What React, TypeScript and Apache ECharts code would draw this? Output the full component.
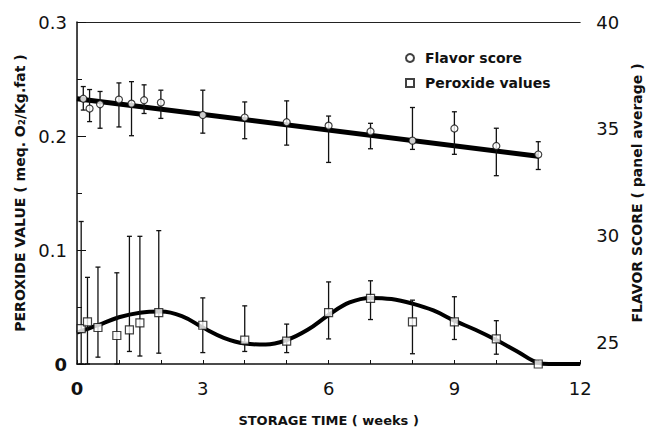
import React, { useEffect, useRef } from "react";
import * as echarts from "echarts";

// Flavor score (right axis, panel average)
const flavorWeeks = [0.15, 0.3, 0.55, 1, 1.3, 1.6, 2, 3, 4, 5, 6, 7, 8, 9, 10, 11];
const flavorScore = [36.41, 35.95, 36.15, 36.37, 36.18, 36.34, 36.23, 35.65, 35.53, 35.31, 35.15, 34.88, 34.45, 35.02, 34.2, 33.8];
const flavorHigh = [36.98, 36.84, 36.75, 37.15, 37.21, 37.06, 36.81, 36.81, 36.26, 36.31, 35.6, 35.26, 36.0, 35.8, 35.03, 34.4];
const flavorLow = [35.88, 35.34, 35.03, 35.09, 34.68, 35.72, 35.49, 34.8, 34.54, 34.24, 33.43, 34.07, 34.04, 33.81, 32.81, 33.1];
const flavorFit = [
  [0, 36.41],
  [11, 33.72],
];

// Peroxide values (left axis, meq O2/Kg fat)
const peroxWeeks = [0.1, 0.25, 0.5, 0.95, 1.25, 1.5, 1.95, 3, 4, 5, 6, 7, 8, 9, 10, 11];
const peroxValue = [0.031, 0.037, 0.032, 0.025, 0.03, 0.036, 0.045, 0.034, 0.021, 0.02, 0.045, 0.0575, 0.037, 0.037, 0.022, 0];
const peroxHigh = [0.125, 0.076, 0.085, 0.08, 0.112, 0.112, 0.117, 0.058, 0.051, 0.035, 0.072, 0.073, 0.056, 0.059, 0.038, null];
const peroxLow = [0, 0, 0.006, 0, 0.011, 0.007, 0.0095, 0.01, 0.011, 0.01, 0.022, 0.039, 0.009, 0.0215, 0.0086, null];
const peroxFit = [
  [0, 0.0275], [0.5, 0.034], [1, 0.041], [1.5, 0.045], [2, 0.046], [2.5, 0.042],
  [3, 0.032], [3.5, 0.023], [4, 0.018], [4.5, 0.017], [5, 0.021], [5.5, 0.03],
  [6, 0.043], [6.5, 0.054], [7, 0.058], [7.5, 0.057], [8, 0.053], [8.5, 0.047],
  [9, 0.038], [9.5, 0.03], [10, 0.021], [10.5, 0.011], [11, 0.001], [11.25, 0], [12, 0],
];

const xTickLabels = [0, 3, 6, 9, 12];
const leftTickLabels = [0, 0.1, 0.2, 0.3];
const rightTickLabels = [25, 30, 35, 40];

const FONT = "DejaVu Sans";

function errorBarItem(params: any, api: any) {
  const x = api.value(0);
  const lo = api.value(1);
  const hi = api.value(2);
  if (lo == null || hi == null || isNaN(lo) || isNaN(hi)) return null;
  const pLo = api.coord([x, lo]);
  const pHi = api.coord([x, hi]);
  const w = 2.5;
  const style = { stroke: "#111", lineWidth: 1.3 };
  return {
    type: "group",
    children: [
      { type: "line", shape: { x1: pLo[0], y1: pLo[1], x2: pHi[0], y2: pHi[1] }, style },
      { type: "line", shape: { x1: pHi[0] - w, y1: pHi[1], x2: pHi[0] + w, y2: pHi[1] }, style },
      { type: "line", shape: { x1: pLo[0] - w, y1: pLo[1], x2: pLo[0] + w, y2: pLo[1] }, style },
    ],
  };
}

export default function App() {
  const ref = useRef<HTMLDivElement>(null);
  useEffect(() => {
    if (!ref.current) return;
    const chart = echarts.init(ref.current, null, { renderer: "svg" });
    const numStyle = { fontFamily: FONT, fontSize: 18, color: "#111" };
    chart.setOption({
      animation: false,
      backgroundColor: "#fff",
      grid: { left: 77, right: 59, top: 22, bottom: 62 },
      legend: {
        orient: "vertical",
        left: 400,
        top: 46,
        itemWidth: 8,
        itemHeight: 8,
        itemGap: 11,
        data: [
          { name: "Flavor score", icon: "circle" },
          { name: "Peroxide values", icon: "rect" },
        ],
        textStyle: { fontFamily: FONT, fontWeight: "bold", fontSize: 14, color: "#111", padding: [0, 0, 0, 6] },
      },
      xAxis: [
        {
          type: "value",
          min: 0,
          max: 12,
          interval: 1,
          axisLine: { show: true, lineStyle: { color: "#111", width: 1.5 } },
          axisTick: { show: true, inside: true, length: 4, lineStyle: { color: "#111" } },
          axisLabel: {
            margin: 15,
            ...numStyle,
            formatter: (v: number) =>
              xTickLabels.indexOf(v) >= 0 ? (v === 0 ? "{b|0}" : String(v)) : "",
            rich: { b: { fontFamily: FONT, fontSize: 18, fontWeight: "bold", color: "#111" } },
          },
          splitLine: { show: false },
          name: "STORAGE TIME ( weeks )",
          nameLocation: "middle",
          nameGap: 50,
          nameTextStyle: { fontFamily: FONT, fontWeight: "bold", fontSize: 13, color: "#111" },
        },
        {
          type: "value",
          position: "top",
          min: 0,
          max: 12,
          axisLine: { show: true, lineStyle: { color: "#222", width: 1 } },
          axisTick: { show: false },
          axisLabel: { show: false },
          splitLine: { show: false },
        },
      ],
      yAxis: [
        {
          type: "value",
          position: "left",
          min: 0,
          max: 0.3,
          interval: 0.1,
          axisLine: { show: true, lineStyle: { color: "#111", width: 1.5 } },
          axisTick: { show: true, inside: true, length: 9, lineStyle: { color: "#111" } },
          minorTick: { show: true, splitNumber: 2, length: 5, lineStyle: { color: "#111" } },
          axisLabel: {
            margin: 10,
            ...numStyle,
            formatter: (v: number) => {
              const r = Math.round(v * 10) / 10;
              if (leftTickLabels.indexOf(r) < 0) return "";
              return r === 0 ? "{b|0}" : r.toFixed(1);
            },
            rich: { b: { fontFamily: FONT, fontSize: 18, fontWeight: "bold", color: "#111" } },
          },
          splitLine: { show: false },
          name: "PEROXIDE VALUE ( meq. O\u2082/Kg.fat )",
          nameLocation: "middle",
          nameRotate: 90,
          nameGap: 45,
          nameTextStyle: { fontFamily: FONT, fontWeight: "bold", fontSize: 14, color: "#111" },
        },
        {
          type: "value",
          position: "right",
          min: 24,
          max: 40,
          interval: 1,
          axisLine: { show: true, lineStyle: { color: "#444", width: 1, type: "dotted" } },
          axisTick: { show: false },
          axisLabel: {
            margin: 16,
            ...numStyle,
            formatter: (v: number) => (rightTickLabels.indexOf(v) >= 0 ? String(v) : ""),
          },
          splitLine: { show: false },
          name: "FLAVOR SCORE ( panel average )",
          nameLocation: "middle",
          nameRotate: 90,
          nameGap: 45,
          nameTextStyle: { fontFamily: FONT, fontWeight: "bold", fontSize: 14, color: "#111" },
        },
      ],
      series: [
        {
          type: "line",
          name: "Flavor fit",
          xAxisIndex: 0,
          yAxisIndex: 1,
          data: flavorFit,
          showSymbol: false,
          symbol: "none",
          lineStyle: { color: "#000", width: 5 },
          z: 2,
        },
        {
          type: "line",
          name: "Peroxide fit",
          xAxisIndex: 0,
          yAxisIndex: 0,
          data: peroxFit,
          smooth: 0.4,
          showSymbol: false,
          symbol: "none",
          lineStyle: { color: "#000", width: 4 },
          z: 2,
        },
        {
          type: "custom",
          name: "Flavor bars",
          xAxisIndex: 0,
          yAxisIndex: 1,
          renderItem: errorBarItem,
          encode: { x: 0, y: [1, 2] },
          data: flavorWeeks.map((w, i) => [w, flavorLow[i], flavorHigh[i]]),
          z: 3,
        },
        {
          type: "custom",
          name: "Peroxide bars",
          xAxisIndex: 0,
          yAxisIndex: 0,
          renderItem: errorBarItem,
          encode: { x: 0, y: [1, 2] },
          data: peroxWeeks.map((w, i) => [w, peroxLow[i], peroxHigh[i]]),
          z: 3,
        },
        {
          type: "scatter",
          name: "Flavor score",
          xAxisIndex: 0,
          yAxisIndex: 1,
          symbol: "circle",
          symbolSize: 7,
          itemStyle: { color: "#fff", borderColor: "#111", borderWidth: 1.2 },
          data: flavorWeeks.map((w, i) => [w, flavorScore[i]]),
          z: 5,
        },
        {
          type: "scatter",
          name: "Peroxide values",
          xAxisIndex: 0,
          yAxisIndex: 0,
          symbol: "rect",
          symbolSize: 8,
          itemStyle: { color: "#fff", borderColor: "#111", borderWidth: 1.2 },
          data: peroxWeeks.map((w, i) => [w, peroxValue[i]]),
          z: 5,
        },
      ],
    });
    return () => chart.dispose();
  }, []);
  return <div ref={ref} style={{ width: 652, height: 432, position: "absolute", left: 0, top: 0 }} />;
}
